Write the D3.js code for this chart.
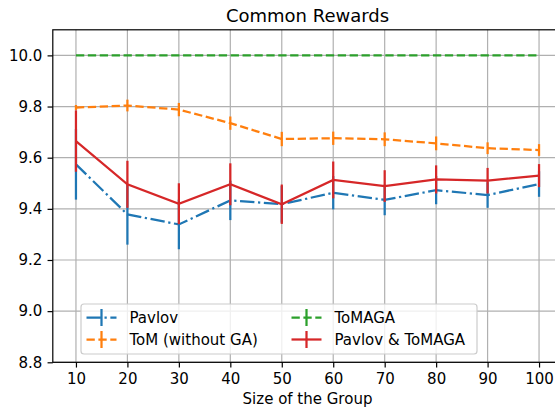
<!DOCTYPE html>
<html>
<head>
<meta charset="utf-8">
<script src="https://cdn.jsdelivr.net/npm/d3@7"></script>
<style>
  body { margin: 0; background: #fff; }
  svg text { font-family: "DejaVu Sans", sans-serif; fill: #000; }
</style>
</head>
<body>
<svg id="chart" width="555" height="407"></svg>
<script>
// group sizes on the x axis
const sizes = [10, 20, 30, 40, 50, 60, 70, 80, 90, 100];

// mean common reward and error per method
const pavlovMean = [9.574, 9.378, 9.339, 9.433, 9.418, 9.463, 9.435, 9.473, 9.454, 9.497];
const pavlovErr  = [0.138, 0.118, 0.097, 0.077, 0.072, 0.065, 0.060, 0.055, 0.050, 0.050];
const tomMean    = [9.796, 9.804, 9.788, 9.735, 9.673, 9.676, 9.672, 9.656, 9.637, 9.630];
const tomErr     = [0.010, 0.023, 0.026, 0.026, 0.028, 0.026, 0.027, 0.027, 0.023, 0.023];
const tomagaMean = [10.0, 10.0, 10.0, 10.0, 10.0, 10.0, 10.0, 10.0, 10.0, 10.0];
const tomagaErr  = [0, 0, 0, 0, 0, 0, 0, 0, 0, 0];
const bothMean   = [9.665, 9.496, 9.420, 9.496, 9.418, 9.513, 9.489, 9.515, 9.510, 9.530];
const bothErr    = [0.120, 0.092, 0.080, 0.082, 0.077, 0.072, 0.062, 0.055, 0.050, 0.045];

const xTicks = [10, 20, 30, 40, 50, 60, 70, 80, 90, 100];
const yTicks = [8.8, 9.0, 9.2, 9.4, 9.6, 9.8, 10.0];

const series = [
  {name: "Pavlov", color: "#1f77b4", dash: "14.4,3.6,2.25,3.6", mean: pavlovMean, err: pavlovErr},
  {name: "ToM (without GA)", color: "#ff7f0e", dash: "8.3,3.6", mean: tomMean, err: tomErr},
  {name: "ToMAGA", color: "#2ca02c", dash: "8.3,3.6", mean: tomagaMean, err: tomagaErr},
  {name: "Pavlov & ToMAGA", color: "#d62728", dash: null, mean: bothMean, err: bothErr}
];

const svg = d3.select("#chart");
const plotL = 52.8, plotR = 562.2, plotT = 29.8, plotB = 362.3;
const lw = 2.25;

const x = d3.scaleLinear().domain([5.5, 104.5]).range([plotL, plotR]);
const y = d3.scaleLinear().domain([8.8, 10.1]).range([plotB, plotT]);

// grid
const grid = svg.append("g");
grid.selectAll("line.gx").data(xTicks).join("line")
  .attr("x1", d => x(d)).attr("x2", d => x(d))
  .attr("y1", plotT).attr("y2", plotB)
  .attr("stroke", "#b0b0b0").attr("stroke-width", 1.2);
grid.selectAll("line.gy").data(yTicks).join("line")
  .attr("x1", plotL).attr("x2", plotR)
  .attr("y1", d => y(d)).attr("y2", d => y(d))
  .attr("stroke", "#b0b0b0").attr("stroke-width", 1.2);

// series lines + error bars
const line = d3.line().x(d => x(d[0])).y(d => y(d[1]));
series.forEach(s => {
  const g = svg.append("g");
  const pts = sizes.map((v, i) => [v, s.mean[i], s.err[i]]);
  g.append("path")
    .attr("d", line(pts))
    .attr("fill", "none")
    .attr("stroke", s.color)
    .attr("stroke-width", lw)
    .attr("stroke-dasharray", s.dash);
  g.selectAll("line.err").data(pts.filter(p => p[2] > 0)).join("line")
    .attr("x1", d => x(d[0])).attr("x2", d => x(d[0]))
    .attr("y1", d => y(d[1] - d[2])).attr("y2", d => y(d[1] + d[2]))
    .attr("stroke", s.color)
    .attr("stroke-width", lw);
});

// spines
svg.append("rect")
  .attr("x", plotL).attr("y", plotT)
  .attr("width", plotR - plotL).attr("height", plotB - plotT)
  .attr("fill", "none").attr("stroke", "#000").attr("stroke-width", 1.2);

// axes
const xAxis = svg.append("g")
  .attr("transform", `translate(0,${plotB})`)
  .call(d3.axisBottom(x).tickValues(xTicks).tickSize(5.25).tickPadding(5.25).tickFormat(d3.format("d")));
const yAxis = svg.append("g")
  .attr("transform", `translate(${plotL},0)`)
  .call(d3.axisLeft(y).tickValues(yTicks).tickSize(5.25).tickPadding(5.25).tickFormat(d3.format(".1f")));
[xAxis, yAxis].forEach(a => {
  a.select(".domain").remove();
  a.attr("font-family", "DejaVu Sans").attr("font-size", 15);
  a.selectAll(".tick line").attr("stroke", "#000").attr("stroke-width", 1.2);
});
xAxis.selectAll("text").attr("dy", "0.75em");

// title + label
svg.append("text")
  .attr("x", (plotL + plotR) / 2).attr("y", 21.7)
  .attr("text-anchor", "middle").attr("font-size", 18)
  .text("Common Rewards");
svg.append("text")
  .attr("x", (plotL + plotR) / 2).attr("y", 404)
  .attr("text-anchor", "middle").attr("font-size", 15)
  .text("Size of the Group");

// legend
const leg = svg.append("g");
leg.append("rect")
  .attr("x", 81).attr("y", 304).attr("width", 396).attr("height", 50)
  .attr("rx", 3).attr("fill", "#fff").attr("fill-opacity", 0.8)
  .attr("stroke", "#cccccc").attr("stroke-width", 1.2);
const legPos = [[86.5, 317.5], [86.5, 339.5], [291.5, 317.5], [291.5, 339.5]];
series.forEach((s, i) => {
  const [lx, ly] = legPos[i];
  const item = leg.append("g").attr("transform", `translate(${lx},${ly})`);
  item.append("line")
    .attr("x1", 0).attr("x2", 30).attr("y1", 0).attr("y2", 0)
    .attr("stroke", s.color).attr("stroke-width", lw)
    .attr("stroke-dasharray", s.dash);
  item.append("line")
    .attr("x1", 15).attr("x2", 15).attr("y1", -8.5).attr("y2", 8.5)
    .attr("stroke", s.color).attr("stroke-width", lw);
  item.append("text")
    .attr("x", 43).attr("y", 0).attr("dy", "0.35em")
    .attr("font-size", 15)
    .text(s.name);
});
</script>
</body>
</html>
